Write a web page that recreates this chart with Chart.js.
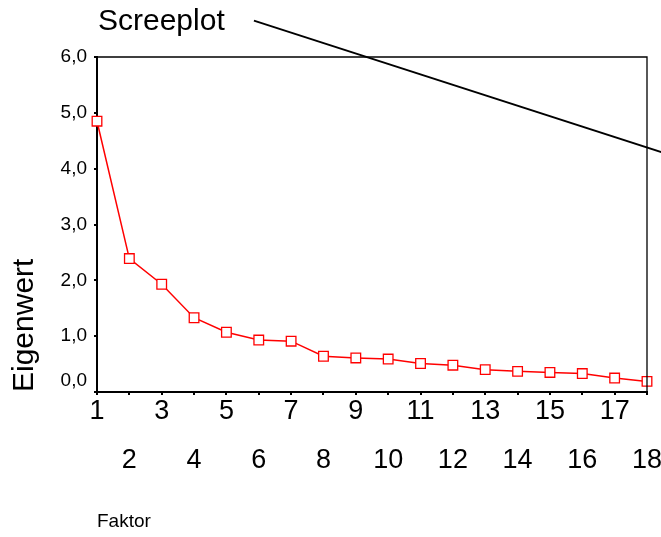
<!DOCTYPE html>
<html>
<head>
<meta charset="utf-8">
<script src="https://cdn.jsdelivr.net/npm/chart.js@4/dist/chart.umd.min.js"></script>
<style>
  html, body { margin: 0; padding: 0; background: #fff; }
  canvas { display: block; }
</style>
</head>
<body>
<canvas id="scree" width="661" height="537"></canvas>
<script>
// scree plot data
const factors = [1, 2, 3, 4, 5, 6, 7, 8, 9, 10, 11, 12, 13, 14, 15, 16, 17, 18];
const eigenvalues = [4.85, 2.39, 1.93, 1.33, 1.07, 0.93, 0.91, 0.64, 0.61, 0.59, 0.51, 0.48, 0.40, 0.37, 0.35, 0.33, 0.25, 0.19];
const yTickValues = [0, 1, 2, 3, 4, 5, 6];
const xTickLabels = factors.map(String);
const chartTitle = 'Screeplot';
const xTitle = 'Faktor';
const yTitle = 'Eigenwert';
// the stray black line crossing the plot, in data units
const strayLine = [[5.85, 6.65], [18.8, 4.23]];

const FONT = 'Arial, "Liberation Sans", sans-serif';

// top/right frame, title text and the stray line
const extrasPlugin = {
  id: 'extras',
  afterDatasetsDraw(chart) {
    const { ctx, chartArea, scales } = chart;
    ctx.save();
    ctx.strokeStyle = '#000';
    ctx.lineWidth = 1.3;
    ctx.beginPath();
    ctx.moveTo(chartArea.left, chartArea.top);
    ctx.lineTo(chartArea.right, chartArea.top);
    ctx.lineTo(chartArea.right, chartArea.bottom);
    ctx.stroke();

    ctx.lineWidth = 1.8;
    ctx.beginPath();
    strayLine.forEach((p, i) => {
      const x = scales.x.getPixelForValue(p[0]);
      const y = scales.y.getPixelForValue(p[1]);
      if (i === 0) ctx.moveTo(x, y); else ctx.lineTo(x, y);
    });
    ctx.stroke();

    ctx.fillStyle = '#000';
    ctx.font = '30px ' + FONT;
    ctx.textBaseline = 'middle';
    ctx.textAlign = 'left';
    ctx.fillText(chartTitle, chartArea.left + 1, 22);
    ctx.restore();
  }
};

new Chart(document.getElementById('scree').getContext('2d'), {
  type: 'line',
  data: {
    datasets: [{
      data: factors.map((f, i) => ({ x: f, y: eigenvalues[i] })),
      borderColor: '#ff0000',
      borderWidth: 1.5,
      backgroundColor: '#ffffff',
      pointStyle: 'rect',
      pointRadius: 6.8,
      pointBorderColor: '#ff0000',
      pointBackgroundColor: '#ffffff',
      pointBorderWidth: 1.3,
      tension: 0,
      clip: false
    }]
  },
  options: {
    responsive: false,
    animation: false,
    devicePixelRatio: 1,
    layout: { padding: { top: 57, right: 14, left: 0, bottom: 0 } },
    plugins: {
      legend: { display: false },
      tooltip: { enabled: false }
    },
    scales: {
      x: {
        type: 'linear',
        min: 1,
        max: 18,
        afterBuildTicks: s => { s.ticks = factors.map(v => ({ value: v })); },
        afterFit: s => { s.height = 145; s.paddingLeft = 0; s.paddingRight = 0; },
        border: { display: true, color: '#000', width: 2 },
        grid: { drawOnChartArea: false, drawTicks: true, tickLength: 3, color: '#000', lineWidth: 2 },
        ticks: {
          autoSkip: false,
          maxRotation: 0,
          padding: 4,
          color: '#000',
          font: { family: FONT, size: 27, lineHeight: '24.75px' },
          callback: v => {
            const label = xTickLabels[factors.indexOf(v)];
            return v % 2 ? [label] : ['', '', label];
          }
        },
        title: {
          display: true,
          text: xTitle,
          align: 'start',
          color: '#000',
          font: { family: FONT, size: 19 },
          padding: { top: 0, bottom: 4 }
        }
      },
      y: {
        min: 0,
        max: 6,
        afterBuildTicks: s => { s.ticks = yTickValues.map(v => ({ value: v })); },
        afterFit: s => { s.width = 97; s.paddingTop = 0; s.paddingBottom = 0; },
        border: { display: true, color: '#000', width: 2 },
        grid: { drawOnChartArea: false, drawTicks: true, tickLength: 3, color: '#000', lineWidth: 2 },
        ticks: {
          padding: 7,
          color: '#000',
          font: { family: FONT, size: 19, lineHeight: 1.2 },
          callback: v => {
            const label = v.toFixed(1).replace('.', ',');
            return v === 0 ? [label, ''] : label;
          }
        },
        title: {
          display: true,
          text: yTitle,
          align: 'start',
          color: '#000',
          font: { family: FONT, size: 30 },
          padding: { top: 7, bottom: 0 }
        }
      }
    }
  },
  plugins: [extrasPlugin]
});
</script>
</body>
</html>
